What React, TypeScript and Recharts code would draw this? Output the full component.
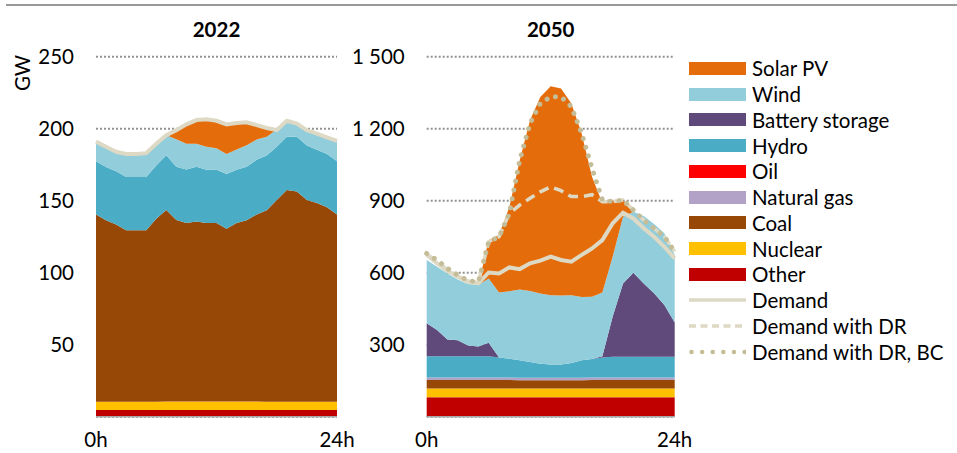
import React from "react";
import { AreaChart, Area, Line, XAxis, YAxis, CartesianGrid } from "recharts";

// hour of day, 0h..24h
const hours = [0, 1, 2, 3, 4, 5, 6, 7, 8, 9, 10, 11, 12, 13, 14, 15, 16, 17, 18, 19, 20, 21, 22, 23, 24];

// 2022 generation, GW
const other22 = [4.6, 4.6, 4.6, 4.6, 4.6, 4.6, 4.6, 4.6, 4.6, 4.6, 4.6, 4.6, 4.6, 4.6, 4.6, 4.6, 4.6, 4.6, 4.6, 4.6, 4.6, 4.6, 4.6, 4.6, 4.6];
const nuclear22 = [5.8, 5.8, 5.8, 5.8, 5.8, 5.8, 5.8, 5.9, 6, 6, 6, 5.9, 5.9, 5.9, 5.9, 5.9, 5.9, 5.8, 5.8, 5.8, 5.8, 5.8, 5.8, 5.8, 5.8];
const coal22 = [130, 126, 123, 119, 119, 119, 127, 133, 126, 124, 125, 124, 124, 120, 124, 126, 130, 133, 140, 147, 146, 140, 138, 135, 130];
const gas22 = [0, 0, 0, 0, 0, 0, 0, 0, 0, 0, 0, 0, 0, 0, 0, 0, 0, 0, 0, 0, 0, 0, 0, 0, 0];
const oil22 = [0, 0, 0, 0, 0, 0, 0, 0, 0, 0, 0, 0, 0, 0, 0, 0, 0, 0, 0, 0, 0, 0, 0, 0, 0];
const hydro22 = [37, 37, 37, 37, 37, 37, 37, 38, 37, 37, 38, 37, 37, 38, 37, 37, 38, 38, 37, 37, 38, 38, 37, 37, 37];
const battery22 = [0, 0, 0, 0, 0, 0, 0, 0, 0, 0, 0, 0, 0, 0, 0, 0, 0, 0, 0, 0, 0, 0, 0, 0, 0];
const wind22 = [13, 14, 14, 17, 17, 17, 15, 14, 19, 18, 16, 16, 15, 14, 14, 15, 14, 13, 12, 11, 10, 11, 12, 12, 14];
const solar22 = [0, 0, 0, 0, 0, 0, 0, 0.6, 7, 13, 17, 19, 20, 21.5, 19, 16, 10, 7, 0, 0, 0, 0, 0, 0, 0];
const demand22 = [191, 187.5, 184, 182.5, 182.5, 183, 189.5, 195.5, 199, 203, 206, 206.5, 205.5, 203, 204, 204.5, 202.5, 200.5, 199, 205.5, 203.5, 199, 196.5, 194, 191.5];

// 2050 generation, GW
const other50 = [81, 81, 81, 81, 81, 81, 81, 81, 81, 81, 81, 81, 81, 81, 81, 81, 81, 81, 81, 81, 81, 81, 81, 81, 81];
const nuclear50 = [37, 37, 37, 37, 37, 37, 37, 37, 37, 37, 37, 37, 37, 37, 37, 37, 37, 37, 37, 37, 37, 37, 37, 37, 37];
const coal50 = [35, 35, 35, 35, 35, 35, 35, 35, 35, 34, 34, 34, 34, 34, 34, 34, 35, 35, 35, 35, 35, 35, 35, 35, 35];
const gas50 = [10, 10, 10, 10, 10, 10, 10, 10, 10, 10, 10, 10, 10, 10, 10, 10, 10, 10, 10, 10, 10, 10, 10, 10, 10];
const oil50 = [0, 0, 0, 0, 0, 0, 0, 0, 0, 0, 0, 0, 0, 0, 0, 0, 0, 0, 0, 0, 0, 0, 0, 0, 0];
const hydro50 = [89, 89, 89, 89, 89, 89, 89, 84, 78, 73, 66, 59, 56, 56, 62, 73, 77, 84, 87, 87, 87, 87, 87, 87, 87];
const battery50 = [137, 109, 70, 67, 45, 40, 56, 0, 0, 0, 0, 0, 0, 0, 0, 0, 0, 5, 167, 305, 350, 305, 264, 215, 142];
const wind50 = [264, 264, 275, 253, 256, 257, 268, 270, 282, 295, 296, 292, 288, 287, 282, 264, 260, 265, 250, 278, 254, 281, 289, 299, 283];
const solar50 = [0, 0, 0, 0, 0, 0, 160, 240, 351, 538, 711, 819, 871, 862, 799, 680, 500, 372, 233, 69, 0, 0, 0, 0, 0];
const demand50 = [675, 639, 608, 583, 562, 556, 601, 597, 622, 615, 639, 650, 667, 653, 646, 674, 701, 736, 806, 850, 826, 785, 750, 708, 660];
const demandDR50 = [678, 646, 613, 586, 565, 559, 729, 750, 847, 882, 910, 937, 958, 942, 917, 917, 925, 896, 896, 903, 861, 819, 785, 750, 688];
const demandBC50 = [680, 653, 618, 590, 567, 562, 729, 750, 847, 1069, 1222, 1306, 1333, 1333, 1292, 1180, 1035, 903, 896, 903, 861, 819, 785, 750, 688];

const ticks22 = [50, 100, 150, 200, 250];
const ticks50 = [300, 600, 900, 1200, 1500];

const FONT = "Lato, 'Open Sans', sans-serif";
const GRID = "#939393";
const DEMAND = "#DDD9C4";
const DEMAND_DOT = "#C4BD97";

// bottom to top
const stackSeries = [
  { key: "other", name: "Other", color: "#C00000" },
  { key: "nuclear", name: "Nuclear", color: "#FFC000" },
  { key: "coal", name: "Coal", color: "#974806" },
  { key: "gas", name: "Natural gas", color: "#B3A2C7" },
  { key: "oil", name: "Oil", color: "#FF0000" },
  { key: "hydro", name: "Hydro", color: "#4BACC6" },
  { key: "battery", name: "Battery storage", color: "#604A7B" },
  { key: "wind", name: "Wind", color: "#92CDDC" },
  { key: "solar", name: "Solar PV", color: "#E46C0A" },
];

const data22 = hours.map((h, i) => ({
  h,
  other: other22[i],
  nuclear: nuclear22[i],
  coal: coal22[i],
  gas: gas22[i],
  oil: oil22[i],
  hydro: hydro22[i],
  battery: battery22[i],
  wind: wind22[i],
  solar: solar22[i],
  demand: demand22[i],
}));

const data50 = hours.map((h, i) => ({
  h,
  other: other50[i],
  nuclear: nuclear50[i],
  coal: coal50[i],
  gas: gas50[i],
  oil: oil50[i],
  hydro: hydro50[i],
  battery: battery50[i],
  wind: wind50[i],
  solar: solar50[i],
  demand: demand50[i],
  demandDR: demandDR50[i],
  demandBC: demandBC50[i],
}));

const tickStyle = { fill: "#000", fontSize: 20.5, fontFamily: FONT };

function fmtThousands(v: number) {
  if (v >= 1000) return `${Math.floor(v / 1000)} ${String(v % 1000).padStart(3, "0")}`;
  return String(v);
}

function Panel({ data, ticks, max, yWidth, rightMargin, withDR }: any) {
  return (
    <AreaChart
      width={360}
      height={453}
      data={data}
      margin={{ top: 56.7, right: rightMargin, bottom: 6.3, left: 0 }}
    >
      <CartesianGrid vertical={false} stroke={GRID} strokeWidth={2} strokeDasharray="2 2" />
      <XAxis
        dataKey="h"
        type="number"
        domain={[0, 24]}
        ticks={[0, 24]}
        tickFormatter={(v) => `${v}h`}
        tick={tickStyle}
        tickLine={false}
        tickMargin={10}
        height={30}
        axisLine={{ stroke: "#a6a6a6", strokeWidth: 1.5 }}
      />
      <YAxis
        type="number"
        domain={[0, max]}
        ticks={ticks}
        tickFormatter={fmtThousands}
        tick={tickStyle}
        tickLine={false}
        axisLine={false}
        tickMargin={16}
        width={yWidth}
      />
      {stackSeries.map((s) => (
        <Area
          key={s.key}
          type="linear"
          dataKey={s.key}
          stackId="gen"
          fill={s.color}
          fillOpacity={1}
          stroke="none"
          isAnimationActive={false}
        />
      ))}
      <Line type="linear" dataKey="demand" stroke={DEMAND} strokeWidth={4} dot={false} isAnimationActive={false} />
      {withDR && (
        <Line
          type="linear"
          dataKey="demandDR"
          stroke={DEMAND}
          strokeWidth={3.5}
          strokeDasharray="10 6"
          dot={false}
          isAnimationActive={false}
        />
      )}
      {withDR && (
        <Line
          type="linear"
          dataKey="demandBC"
          stroke={DEMAND_DOT}
          strokeWidth={5}
          strokeLinecap="round"
          strokeDasharray="0.01 9"
          dot={false}
          isAnimationActive={false}
        />
      )}
    </AreaChart>
  );
}

const legendItems = [
  ...stackSeries.slice().reverse().map((s) => ({ name: s.name, color: s.color, kind: "box" })),
  { name: "Demand", color: DEMAND, kind: "solid" },
  { name: "Demand with DR", color: DEMAND, kind: "dash" },
  { name: "Demand with DR, BC", color: DEMAND_DOT, kind: "dot" },
];

function LegendBox() {
  return (
    <div style={{ position: "absolute", left: 689, top: 55.4, fontFamily: FONT, fontSize: 20.5, color: "#000" }}>
      {legendItems.map((it) => (
        <div key={it.name} style={{ display: "flex", alignItems: "center", height: 25.75, whiteSpace: "nowrap" }}>
          {it.kind === "box" ? (
            <div style={{ width: 57, height: 13, background: it.color, marginRight: 6 }} />
          ) : (
            <svg width={57} height={10} style={{ marginRight: 6 }}>
              <line
                x1={it.kind === "dot" ? 2.5 : 0}
                y1={5}
                x2={57}
                y2={5}
                stroke={it.color}
                strokeWidth={it.kind === "dot" ? 4.5 : 3.5}
                strokeLinecap={it.kind === "dot" ? "round" : "butt"}
                strokeDasharray={it.kind === "dash" ? "7 4.5" : it.kind === "dot" ? "0.01 10.6" : undefined}
              />
            </svg>
          )}
          <span>{it.name}</span>
        </div>
      ))}
    </div>
  );
}

export default function App() {
  return (
    <div style={{ position: "absolute", left: 0, top: 0, width: 957, height: 453, background: "#fff", overflow: "hidden" }}>
      <div style={{ position: "absolute", left: 6, top: 4, width: 951, height: 2, background: "#999" }} />
      <div style={{ position: "absolute", left: 0, top: 0 }}>
        <Panel data={data22} ticks={ticks22} max={250} yWidth={96} rightMargin={23} withDR={false} />
      </div>
      <div style={{ position: "absolute", left: 340, top: 0 }}>
        <Panel data={data50} ticks={ticks50} max={1500} yWidth={86.7} rightMargin={25.3} withDR={true} />
      </div>
      <div style={{ position: "absolute", left: 116.5, width: 200, top: 17, textAlign: "center", fontFamily: FONT, fontWeight: 700, fontSize: 20.5 }}>
        2022
      </div>
      <div style={{ position: "absolute", left: 450.7, width: 200, top: 17, textAlign: "center", fontFamily: FONT, fontWeight: 700, fontSize: 20.5 }}>
        2050
      </div>
      <div
        style={{
          position: "absolute",
          left: 22,
          top: 73,
          transform: "translate(-50%, -50%) rotate(-90deg)",
          fontFamily: FONT,
          fontSize: 20.5,
        }}
      >
        GW
      </div>
      <LegendBox />
    </div>
  );
}
